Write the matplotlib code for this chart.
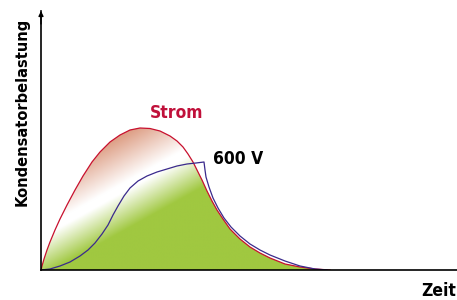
import numpy as np
import matplotlib
matplotlib.use("Agg")
import matplotlib.pyplot as plt
from matplotlib.patches import Polygon

# Data (time vs. load, arbitrary units)
strom_t = [0, 1, 3, 6, 9, 14, 19, 26, 34, 42, 51, 59, 69, 79, 89, 99, 109, 119, 129, 136,
           142, 147, 152, 156, 161, 166, 171, 176, 182, 189, 199, 209, 219, 229, 244, 259, 274, 289]
strom_v = [0, 4, 11, 20, 28, 40, 51, 65, 80, 94, 108, 118, 128, 135, 140, 142, 141.5, 139, 134, 129,
           123, 116, 108, 100, 90, 79, 69, 60, 51, 41, 31, 23, 17, 12, 6, 3, 1, 0]

volt_t = [0, 9, 19, 29, 39, 47, 54, 61, 67, 72, 77, 83, 89, 97, 106, 116, 126, 136, 146, 155, 163,
          164, 165, 168, 172, 177, 183, 190, 199, 209, 219, 229, 244, 259, 274, 286]
volt_v = [0, 1, 4, 8, 14, 20, 27, 36, 45, 55, 64, 74, 82, 89, 94, 98, 101, 104, 106, 107, 108,
          100, 93, 83, 72, 62, 52, 43, 34, 26, 20, 15, 9, 4, 1, 0]

W, H = 457, 300
fig = plt.figure(figsize=(W / 100, H / 100), dpi=100)
ax = fig.add_axes([41 / W, 30 / H, (W - 41) / W, 259 / H])
ax.set_xlim(0, 416)
ax.set_ylim(0, 259)

# gradient fill under the Strom curve
nx, ny = 420, 260
xs = np.linspace(0, 416, nx)
ys = np.linspace(0, 259, ny)
X, Y = np.meshgrid(xs, ys)
n = np.array([76.0, -137.0])
n /= np.linalg.norm(n)
d = (X - 9) * n[0] + (Y - 37) * n[1]
red = np.array([222, 160, 135]) / 255
white = np.array([255, 255, 255]) / 255
green = np.array([160, 200, 64]) / 255
a = np.clip((d + 50) / 42, 0, 1)[..., None]   # red -> white
b = np.clip((d - 0) / 34, 0, 1)[..., None]    # white -> green
col = red * (1 - a) + white * a
col = col * (1 - b) + green * b
im = ax.imshow(col, extent=(0, 416, 0, 259), origin="lower", aspect="auto", zorder=1,
               interpolation="bilinear")
poly = Polygon(np.column_stack([strom_t + [strom_t[-1], 0], strom_v + [0, 0]]),
               closed=True, facecolor="none", edgecolor="none", transform=ax.transData)
ax.add_patch(poly)
im.set_clip_path(poly)

ax.plot(strom_t, strom_v, color="#c8102e", lw=0.9, zorder=3, solid_joinstyle="round")
ax.plot(volt_t, volt_v, color="#3a2a8c", lw=0.9, zorder=4, solid_joinstyle="round")

# axes
for s in ["top", "right"]:
    ax.spines[s].set_visible(False)
ax.spines["left"].set_linewidth(1.2)
ax.spines["bottom"].set_linewidth(1.2)
ax.spines["left"].set_zorder(5)
ax.spines["bottom"].set_zorder(5)
ax.set_xticks([])
ax.set_yticks([])
ax.annotate("", xy=(0, 1.0), xytext=(0, 0.95), xycoords="axes fraction",
            arrowprops=dict(arrowstyle="-|>", lw=1.0, color="black", mutation_scale=7,
                            shrinkA=0, shrinkB=0))

fam = ["DejaVu Sans"]
kw = dict(fontweight="bold", family=fam, fontstretch="condensed")
fig.text(177 / W, 1 - 113 / H, "Strom", color="#c0103a", ha="center", va="center",
         fontsize=12.5, **kw)
fig.text(213 / W, 1 - 159 / H, "600 V", color="black", ha="left", va="center",
         fontsize=12.5, **kw)
fig.text(22 / W, 1 - 112 / H, "Kondensatorbelastung", color="black", ha="center",
         va="center", rotation=90, fontsize=11.7, **kw)
fig.text(456 / W, 1 - 291 / H, "Zeit", color="black", ha="right", va="center",
         fontsize=12.5, **kw)

fig.savefig("out.png", dpi=100)
